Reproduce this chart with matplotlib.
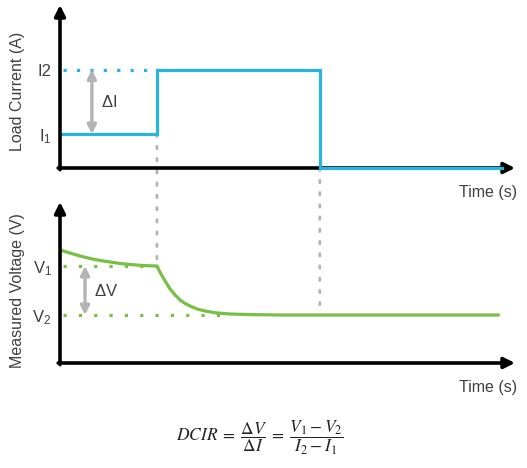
import matplotlib
matplotlib.use("Agg")
import matplotlib.pyplot as plt
from matplotlib.patches import ConnectionPatch

plt.rcParams['font.family'] = ['Liberation Sans', 'DejaVu Sans']
plt.rcParams['mathtext.fontset'] = 'stix'

# Data
#---------------------------
t_up = 2.13      # current steps up
t_down = 5.71    # current switched off
t_end = 9.72

I1 = 1.0
I2 = 2.9
current_time = [0, t_up, t_up, t_down, t_down, t_end]
current_vals = [I1, I1, I2, I2, 0, 0]

V1 = 9.7
V2 = 4.8
# voltage (rest, then relaxation after the step)
volt_time = [0, 0.22, 0.44, 0.66, 0.88, 1.10, 1.32, 1.54, 1.76, 1.98, 2.13,
             2.22, 2.31, 2.42, 2.53, 2.64, 2.75, 2.86, 3.01, 3.19, 3.41,
             3.74, 4.18, 4.84, 5.71, 7.47, 9.63]
volt_vals = [11.3, 11.0, 10.7, 10.45, 10.25, 10.1, 9.95, 9.85, 9.77, 9.72, 9.7,
             8.9, 8.2, 7.4, 6.8, 6.3, 5.95, 5.7, 5.4, 5.2, 5.02,
             4.9, 4.84, 4.8, 4.8, 4.8, 4.8]

cyan = "#27b4e0"
green = "#77c043"
grey = "#b4b4b4"
txt = "#404040"

W, H = 527, 468
fig = plt.figure(figsize=(W / 100, H / 100), dpi=100)

ax1 = fig.add_axes([60 / W, (H - 168) / H, 455 / W, 163 / H])
ax2 = fig.add_axes([60 / W, (H - 363) / H, 455 / W, 161 / H])

for ax in (ax1, ax2):
    ax.set_xlim(0, 10)
    ax.patch.set_visible(False)
    for s in ax.spines.values():
        s.set_visible(False)
    ax.set_xticks([])
    ax.tick_params(axis='y', length=0, pad=6, labelsize=12, labelcolor=txt)
    # axis arrows
    ax.annotate('', xy=(0, 1), xytext=(0, -0.01), xycoords='axes fraction',
                arrowprops=dict(arrowstyle='-|>', lw=2.6, color='black',
                                mutation_scale=16, shrinkA=0, shrinkB=0), zorder=5)
    ax.annotate('', xy=(1, 0), xytext=(-0.004, 0), xycoords='axes fraction',
                arrowprops=dict(arrowstyle='-|>', lw=2.6, color='black',
                                mutation_scale=16, shrinkA=0, shrinkB=0), zorder=1)
    ax.text(0.94, -0.15, 'Time (s)', transform=ax.transAxes, ha='center',
            va='center', fontsize=11.5, color=txt)

# Load current
ax1.set_ylim(0, 4.8)
ax1.plot(current_time, current_vals, color=cyan, lw=2.3, zorder=3,
         solid_joinstyle='miter', clip_on=False)
ax1.plot([0.07, t_up], [I2, I2], color=cyan, lw=2.3,
         linestyle=(0, (1, 3.2)), dash_capstyle='butt')
ax1.set_yticks([I1, I2], [r'$\mathregular{I_1}$', 'I2'])
ax1.set_ylabel('Load Current (A)', fontsize=11.5, color=txt)
ax1.yaxis.set_label_coords(-0.078, 0.47)
ax1.annotate('', xy=(0.7, I2), xytext=(0.7, I1),
             arrowprops=dict(arrowstyle='<|-|>', lw=2.4, color=grey,
                             mutation_scale=13, shrinkA=0, shrinkB=0))
ax1.text(0.9, (I1 + I2) / 2, r'$\mathregular{\Delta I}$', fontsize=12,
         color=txt, va='center')

# Measured voltage
ax2.set_ylim(0, 16.1)
ax2.plot(volt_time, volt_vals, color=green, lw=2.3, zorder=3)
ax2.plot([0.07, t_up], [V1, V1], color=green, lw=2.3,
         linestyle=(0, (1, 3.8)), dash_capstyle='butt')
ax2.plot([0.07, 3.63], [V2, V2], color=green, lw=2.3,
         linestyle=(0, (1, 3.8)), dash_capstyle='butt')
ax2.set_yticks([V1, V2], [r'$\mathregular{V_1}$', r'$\mathregular{V_2}$'])
ax2.set_ylabel('Measured Voltage (V)', fontsize=11.5, color=txt)
ax2.yaxis.set_label_coords(-0.078, 0.45)
ax2.annotate('', xy=(0.55, V1), xytext=(0.55, V2),
             arrowprops=dict(arrowstyle='<|-|>', lw=2.4, color=grey,
                             mutation_scale=13, shrinkA=0, shrinkB=0))
ax2.text(0.75, (V1 + V2) / 2, r'$\mathregular{\Delta V}$', fontsize=12,
         color=txt, va='center')

# grey dotted links between the panels
for (ya, yb, tx) in [(I1, V1, t_up), (0, 5.6, t_down)]:
    con = ConnectionPatch(xyA=(tx, ya), coordsA=ax1.transData,
                          xyB=(tx, yb), coordsB=ax2.transData,
                          color=grey, lw=2.0, linestyle=(0, (0.9, 3.5)),
                          zorder=-1)
    fig.add_artist(con)

fig.text(0.494, 0.064,
         r'$DCIR\;=\;\dfrac{\Delta V}{\Delta I}\;=\;\dfrac{V_1 - V_2}{I_2 - I_1}$',
         ha='center', va='center', fontsize=12.5, color='#222222')

fig.savefig('out.png', dpi=100)
